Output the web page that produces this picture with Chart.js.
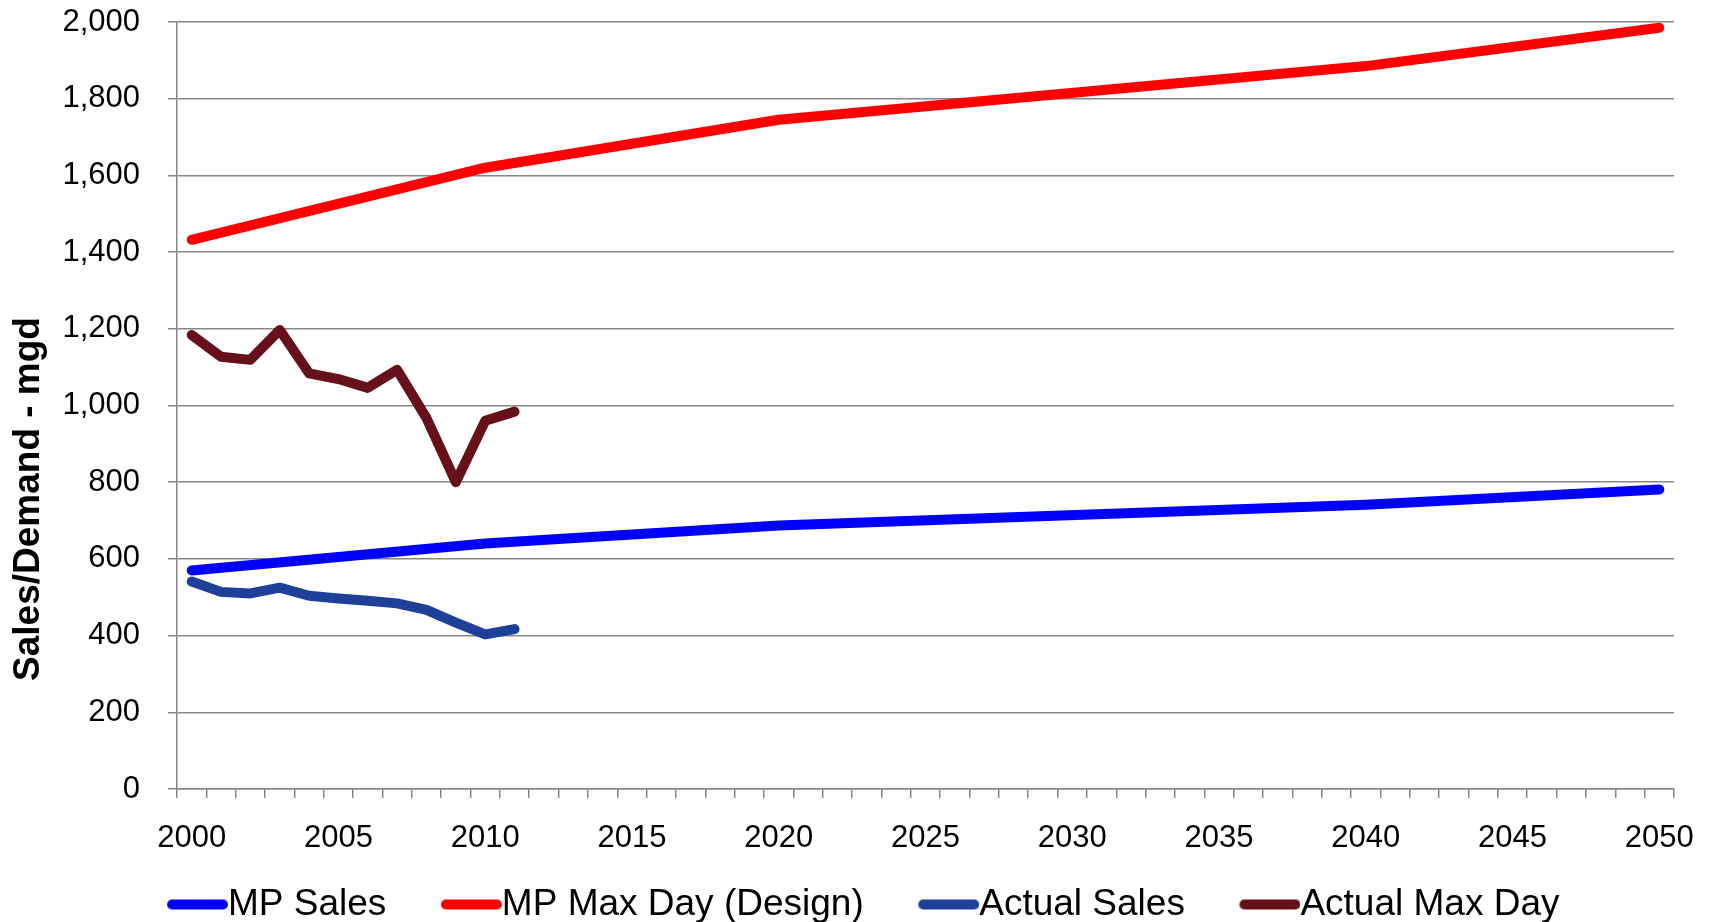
<!DOCTYPE html>
<html>
<head>
<meta charset="utf-8">
<script src="https://cdn.jsdelivr.net/npm/chart.js@4/dist/chart.umd.min.js"></script>
<style>
  html, body { margin: 0; padding: 0; background: #fff; }
</style>
</head>
<body>
<canvas id="demand" width="1712" height="922"></canvas>
<script>
var years = ['2000','2001','2002','2003','2004','2005','2006','2007','2008','2009',
    '2010','2011','2012','2013','2014','2015','2016','2017','2018','2019',
    '2020','2021','2022','2023','2024','2025','2026','2027','2028','2029',
    '2030','2031','2032','2033','2034','2035','2036','2037','2038','2039',
    '2040','2041','2042','2043','2044','2045','2046','2047','2048','2049','2050'];

// master plan projections (break points only)
var mpYears = ['2000', '2010', '2020', '2040', '2050'];
var mpSales = [570, 640, 687, 741, 781];
var mpMaxDay = [1432, 1620, 1745, 1885, 1985];

// actuals
var actualYears = ['2000','2001','2002','2003','2004','2005','2006','2007','2008','2009','2010','2011'];
var actualSales = [541, 514, 510, 525, 504, 497, 491, 484, 467, 434, 403, 417];
var actualMaxDay = [1184, 1127, 1119, 1197, 1084, 1069, 1046, 1093, 967, 800, 960, 984];

var yTicks = [0, 200, 400, 600, 800, 1000, 1200, 1400, 1600, 1800, 2000];

var FONT = '"Liberation Sans", Arial, sans-serif';
var GRID = '#878787';
var LEGEND_SIZE = 37;
var LEGEND_BOX = 95;   // layout width of the legend sample
var SAMPLE_LEN = 61;   // visible length of the legend line

function pairs(xs, ys) {
    return xs.map(function (x, i) { return { x: x, y: ys[i] }; });
}

function lineSet(label, xs, ys, color) {
    return {
        label: label,
        data: pairs(xs, ys),
        borderColor: color,
        backgroundColor: color,
        borderWidth: 10,
        borderCapStyle: 'round',
        borderJoinStyle: 'round',
        pointRadius: 0,
        pointHoverRadius: 0,
        tension: 0,
        fill: false
    };
}

// legend sample: a thick rounded line that runs right up to the text
function legendSample(color) {
    var c = document.createElement('canvas');
    c.width = LEGEND_BOX + LEGEND_SIZE;
    c.height = 12;
    var g = c.getContext('2d');
    g.strokeStyle = color;
    g.lineWidth = 10;
    g.lineCap = 'round';
    g.beginPath();
    g.moveTo(c.width - SAMPLE_LEN + 5, 6);
    g.lineTo(c.width - 5, 6);
    g.stroke();
    return c;
}

// vertical axis title, sits lower than the axis centre like the original
var yTitle = {
    id: 'yTitle',
    afterDraw: function (chart) {
        var ctx = chart.ctx;
        ctx.save();
        ctx.translate(29, 499);
        ctx.rotate(-Math.PI / 2);
        ctx.font = 'bold 37px ' + FONT;
        ctx.fillStyle = '#000';
        ctx.textAlign = 'center';
        ctx.textBaseline = 'middle';
        ctx.fillText('Sales/Demand - mgd', 0, 0);
        ctx.restore();
    }
};

var ctx = document.getElementById('demand');

var demandChart = new Chart(ctx, {
    type: 'line',
    data: {
        labels: years,
        datasets: [
            lineSet('MP Sales', mpYears, mpSales, '#0000FF'),
            lineSet('MP Max Day (Design)', mpYears, mpMaxDay, '#FF0000'),
            lineSet('Actual Sales', actualYears, actualSales, '#1F4099'),
            lineSet('Actual Max Day', actualYears, actualMaxDay, '#66101A')
        ]
    },
    plugins: [yTitle],
    options: {
        responsive: false,
        animation: false,
        events: [],
        layout: { padding: { top: 22, right: 38, bottom: -11, left: 0 } },
        scales: {
            x: {
                type: 'category',
                offset: true,
                afterFit: function (scale) {
                    scale.height = 95;
                    scale.paddingLeft = 0;
                    scale.paddingRight = 0;
                },
                grid: {
                    offset: true,
                    drawOnChartArea: false,
                    drawTicks: true,
                    tickLength: 9,
                    color: GRID,
                    lineWidth: 1.5
                },
                border: { display: true, color: GRID, width: 1.5 },
                ticks: {
                    autoSkip: false,
                    maxRotation: 0,
                    padding: 22,
                    color: '#000',
                    font: { family: FONT, size: 31 },
                    callback: function (value, index) {
                        var y = years[index];
                        return Number(y) % 5 === 0 ? y : '';
                    }
                }
            },
            y: {
                min: 0,
                max: 2000,
                afterFit: function (scale) {
                    scale.width = 177;
                    scale.paddingTop = 0;
                    scale.paddingBottom = 0;
                },
                afterBuildTicks: function (scale) {
                    scale.ticks = yTicks.map(function (v) { return { value: v }; });
                },
                grid: {
                    color: GRID,
                    lineWidth: 1.5,
                    drawTicks: true,
                    tickLength: 9
                },
                border: { display: true, color: GRID, width: 1.5 },
                ticks: {
                    padding: 28,
                    color: '#000',
                    font: { family: FONT, size: 31 },
                    callback: function (v) { return v.toLocaleString('en-US'); }
                }
            }
        },
        plugins: {
            tooltip: { enabled: false },
            legend: {
                position: 'bottom',
                labels: {
                    color: '#000',
                    font: { family: FONT, size: LEGEND_SIZE },
                    usePointStyle: true,
                    pointStyleWidth: LEGEND_BOX,
                    boxHeight: 10,
                    padding: 2,
                    generateLabels: function (chart) {
                        var items = Chart.defaults.plugins.legend.labels.generateLabels(chart);
                        items.forEach(function (it) {
                            var ds = chart.data.datasets[it.datasetIndex];
                            it.pointStyle = legendSample(ds.borderColor);
                            it.lineWidth = 0;
                        });
                        return items;
                    }
                }
            }
        }
    }
});
</script>
</body>
</html>
